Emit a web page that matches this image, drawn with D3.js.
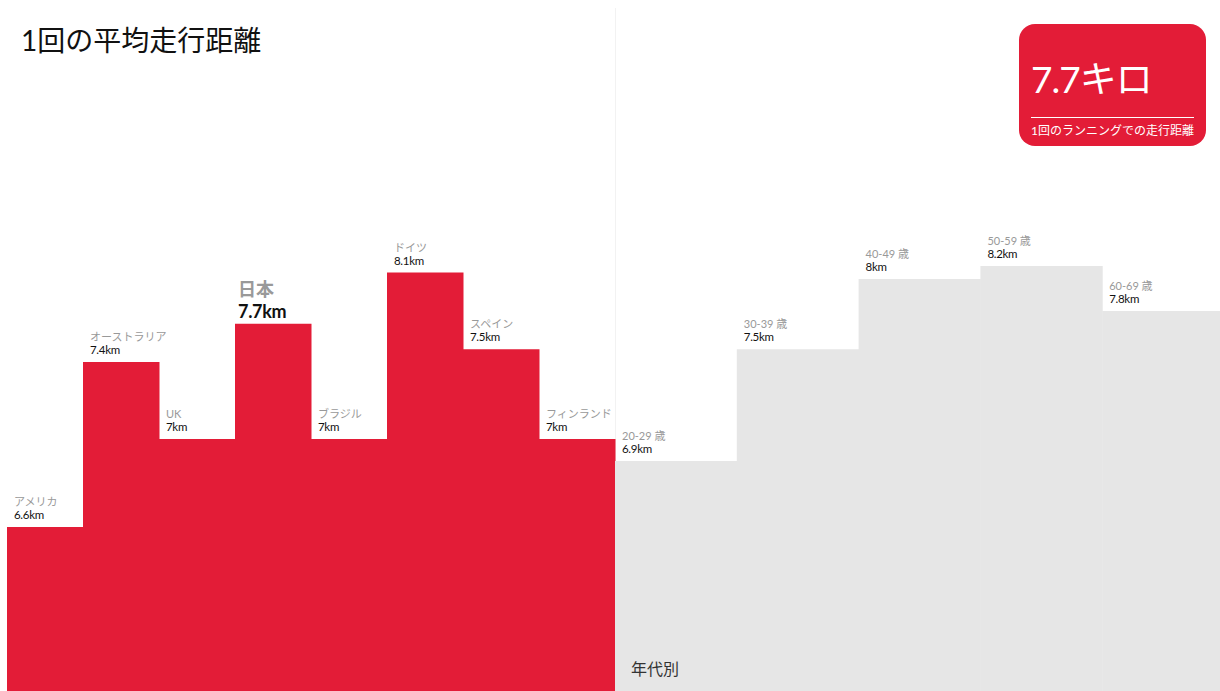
<!DOCTYPE html>
<html>
<head>
<meta charset="utf-8">
<script src="https://cdn.jsdelivr.net/npm/d3@7"></script>
<style>
body { margin: 0; background: #fff; }
svg { display: block; font-family: "Lato", "Noto Sans CJK JP", sans-serif; }
</style>
</head>
<body>
<svg width="1220" height="691"></svg>
<script>
// 国別
var countries = ["アメリカ", "オーストラリア", "UK", "日本", "ブラジル", "ドイツ", "スペイン", "フィンランド"];
var countryKm = [6.6, 7.4, 7.0, 7.7, 7.0, 8.1, 7.5, 7.0];
// 年代別
var ages = ["20-29 歳", "30-39 歳", "40-49 歳", "50-59 歳", "60-69 歳"];
var ageKm = [6.9, 7.5, 8.0, 8.2, 7.8];
var highlight = "日本";

var W = 1220, H = 691;
var red = "#e31c37", grey = "#e6e6e6";
var svg = d3.select("svg");

// value axis is truncated and not quite linear in the original, so several stops
var y = d3.scaleLinear().domain([6.6, 7.0, 7.4, 7.8, 8.0, 8.2]).range([527, 439, 362, 311, 279, 266]);
var fmt = function (v) { return d3.format(".1~f")(v) + "km"; };

var xc = d3.scaleBand().domain(countries).range([7, 615]);
var xa = d3.scaleBand().domain(ages).range([615, 1224]);

// faint divider
svg.append("line").attr("x1", 615.5).attr("x2", 615.5).attr("y1", 8).attr("y2", H)
    .style("stroke", "#f2f2f2").style("stroke-width", 1);

function drawSet(names, vals, x, fill) {
    var g = svg.append("g");
    var d = names.map(function (n, i) { return { name: n, v: vals[i] }; });
    g.selectAll("rect").data(d).enter().append("rect")
        .attr("x", function (d) { return x(d.name); })
        .attr("width", x.bandwidth() + 0.5)
        .attr("y", function (d) { return y(d.v); })
        .attr("height", function (d) { return H - y(d.v); })
        .style("fill", fill);

    var lab = g.selectAll(".lab").data(d).enter().append("g").attr("class", "lab")
        .attr("transform", function (d) {
            return "translate(" + (x(d.name) + (d.name == highlight ? 3 : 7)) + "," + y(d.v) + ")";
        });
    lab.append("text")
        .attr("y", function (d) { return d.name == highlight ? -28 : -21; })
        .style("font-size", function (d) { return d.name == highlight ? "18px" : "11px"; })
        .style("font-weight", function (d) { return d.name == highlight ? "bold" : "normal"; })
        .style("fill", "#999")
        .text(function (d) { return d.name; });
    lab.append("text")
        .attr("y", function (d) { return d.name == highlight ? -6 : -8; })
        .style("font-size", function (d) { return d.name == highlight ? "18px" : "11.5px"; })
        .style("font-weight", function (d) { return d.name == highlight ? "bold" : "normal"; })
        .style("letter-spacing", "-0.3px")
        .style("fill", "#111")
        .text(function (d) { return fmt(d.v); });
}
drawSet(countries, countryKm, xc, red);
drawSet(ages, ageKm, xa, grey);

svg.append("text").attr("x", 631).attr("y", 675).style("font-size", "16px").style("fill", "#333").text("年代別");

svg.append("text").attr("x", 21).attr("y", 51).style("font-size", "28px").style("fill", "#111")
    .text("1回の平均走行距離");

// badge
var b = svg.append("g").attr("transform", "translate(1019,24)");
b.append("rect").attr("width", 187).attr("height", 122).attr("rx", 16).style("fill", red);
b.append("text").attr("x", 12).attr("y", 69).style("font-size", "37px").style("fill", "#fff")
    .style("letter-spacing", "-1px").text("7.7キロ");
b.append("line").attr("x1", 12).attr("x2", 175).attr("y1", 93.5).attr("y2", 93.5)
    .style("stroke", "#fff").style("stroke-width", 1);
b.append("text").attr("x", 12).attr("y", 111).style("font-size", "12px").style("fill", "#fff")
    .text("1回のランニングでの走行距離");
</script>
</body>
</html>
